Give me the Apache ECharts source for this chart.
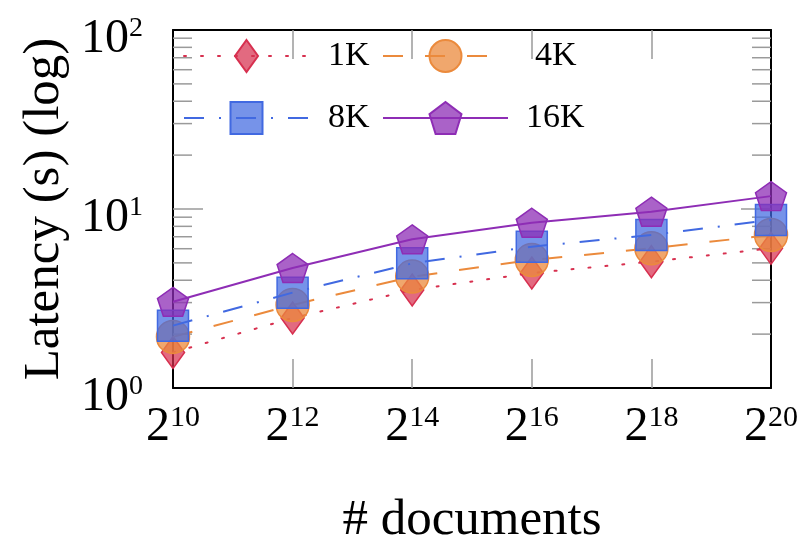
<!DOCTYPE html>
<html>
<head>
<meta charset="utf-8">
<script src="https://cdn.jsdelivr.net/npm/echarts@6/dist/echarts.min.js"></script>
<style>
html,body{margin:0;padding:0;background:#fff;}
#chart{width:806px;height:543px;}
</style>
</head>
<body>
<div id="chart"></div>
<script>
// ---- data ----
const exponents = ['10', '12', '14', '16', '18', '20'];   // x categories: 2^n documents
const seriesNames = ['1K', '4K', '8K', '16K'];
const lat1K  = [1.58, 2.46, 3.53, 4.39, 5.08, 6.03];
const lat4K  = [1.93, 2.91, 4.19, 5.19, 6.03, 7.16];
const lat8K  = [2.23, 3.41, 4.97, 6.16, 7.16, 8.68];
const lat16K = [3.03, 4.68, 6.77, 8.38, 9.66, 11.8];
const yMajorTicks = [1, 10, 100];
const yMinorTicks = [2, 3, 4, 5, 6, 7, 8, 9, 20, 30, 40, 50, 60, 70, 80, 90];

const FONT = '"Liberation Serif", "DejaVu Serif", serif';
const diamondPath = 'path://M0,-1L0.72,0L0,1L-0.72,0Z M-1,0L-1,0 M1,0L1,0';
const pentagonPath = 'path://M0,-1L0.951,-0.309L0.588,0.809L-0.588,0.809L-0.951,-0.309Z';

const styles = [
  {color: '#D7304F', fill: 'rgba(215,48,79,0.72)', symbol: diamondPath, size: 32, line: {type: [2, 15], width: 2, cap: 'round'}},
  {color: '#EB8A3C', fill: 'rgba(235,138,60,0.75)', symbol: 'circle', size: 33, line: {type: [20, 22], width: 2, cap: 'butt'}},
  {color: '#4169E1', fill: 'rgba(65,105,225,0.72)', symbol: 'rect', size: 31, line: {type: [20, 15, 2, 15], width: 2, cap: 'butt'}},
  {color: '#8E2DB5', fill: 'rgba(142,45,181,0.75)', symbol: pentagonPath, size: [31, 29], line: {type: 'solid', width: 2, cap: 'butt'}}
];
const dataSets = [lat1K, lat4K, lat8K, lat16K];

const chart = echarts.init(document.getElementById('chart'), null, {renderer: 'canvas'});

const series = seriesNames.map((name, i) => ({
  name: name,
  type: 'line',
  data: dataSets[i],
  xAxisIndex: 0,
  yAxisIndex: 0,
  symbol: styles[i].symbol,
  symbolSize: styles[i].size,
  showAllSymbol: true,
  animation: false,
  lineStyle: {color: styles[i].color, width: styles[i].line.width, type: styles[i].line.type, cap: styles[i].line.cap},
  itemStyle: {color: styles[i].fill, borderColor: styles[i].color, borderWidth: 1.5, opacity: 1},
  emphasis: {disabled: true},
  z: 3 + i
}));

const legendPos = [
  {left: 183, top: 36, pad: 14},
  {left: 382, top: 36, pad: 22},
  {left: 183, top: 98, pad: 14},
  {left: 382, top: 98, pad: 13}
];
const legends = seriesNames.map((name, i) => ({
  data: [name],
  left: legendPos[i].left,
  top: legendPos[i].top,
  padding: 0,
  itemWidth: 125,
  itemHeight: 40,
  selectedMode: false,
  textStyle: {fontFamily: FONT, fontSize: 34, color: '#000', padding: [0, 0, 0, legendPos[i].pad], lineHeight: 40}
}));

const axisLineStyle = {show: true, lineStyle: {color: '#000', width: 2}};
const tickGray = '#9a9a9a';

const option = {
  animation: false,
  backgroundColor: '#fff',
  grid: {left: 173, right: 35, top: 30, bottom: 155, containLabel: false, outerBoundsMode: 'none'},
  legend: legends,
  xAxis: [
    {
      type: 'category', data: exponents, boundaryGap: false, position: 'bottom',
      axisLine: axisLineStyle,
      axisTick: {show: true, inside: true, length: 29, interval: (idx) => idx > 0 && idx < exponents.length - 1, lineStyle: {color: tickGray, width: 1.5}},
      axisLabel: {
        margin: 15,
        formatter: (v) => '{b|2}{s|' + v + '}',
        rich: {
          b: {fontFamily: FONT, fontSize: 48, lineHeight: 48, color: '#000'},
          s: {fontFamily: FONT, fontSize: 30, lineHeight: 30, color: '#000', verticalAlign: 'top'}
        }
      },
      splitLine: {show: false},
      name: '# documents', nameLocation: 'middle', nameGap: 107,
      nameTextStyle: {fontFamily: FONT, fontSize: 51, color: '#000'}
    },
    {
      type: 'category', data: exponents, boundaryGap: false, position: 'top',
      axisLine: axisLineStyle,
      axisTick: {show: true, inside: true, length: 29, interval: (idx) => idx > 0 && idx < exponents.length - 1, lineStyle: {color: tickGray, width: 1.5}},
      axisLabel: {show: false},
      splitLine: {show: false}
    }
  ],
  yAxis: [
    {
      type: 'log', logBase: 10, min: 1, max: 100, position: 'left',
      axisLine: axisLineStyle,
      axisTick: {show: false},
      minorTick: {show: false},
      splitLine: {show: false},
      axisLabel: {
        margin: 30,
        padding: [18, 0, 0, 0],
        formatter: (v) => '{b|10}{s|' + Math.round(Math.log10(v)) + '}',
        rich: {
          b: {fontFamily: FONT, fontSize: 48, lineHeight: 48, color: '#000'},
          s: {fontFamily: FONT, fontSize: 28, lineHeight: 28, color: '#000', verticalAlign: 'top'}
        }
      },
      name: 'Latency (s) (log)', nameLocation: 'middle', nameGap: 100,
      nameTextStyle: {fontFamily: FONT, fontSize: 51, color: '#000'}
    },
    {
      type: 'log', logBase: 10, min: 1, max: 100, position: 'right',
      axisLine: axisLineStyle,
      axisTick: {show: false},
      splitLine: {show: false},
      axisLabel: {show: false}
    }
  ],
  series: series
};

chart.setOption(option);

// y ticks (major at 10, minor at 2..9 per decade) drawn through the axis scale on both sides
function buildTicks() {
  const xl = chart.convertToPixel({xAxisIndex: 0}, exponents[0]);
  const xr = chart.convertToPixel({xAxisIndex: 0}, exponents[exponents.length - 1]);
  const els = [];
  const addTick = (v, len) => {
    const y = chart.convertToPixel({yAxisIndex: 0}, v);
    els.push({type: 'line', shape: {x1: xl, y1: y, x2: xl + len, y2: y}, style: {stroke: tickGray, lineWidth: 1.5}, z: 1, silent: true});
    els.push({type: 'line', shape: {x1: xr - len, y1: y, x2: xr, y2: y}, style: {stroke: tickGray, lineWidth: 1.5}, z: 1, silent: true});
  };
  yMajorTicks.slice(1, -1).forEach(v => addTick(v, 30));
  yMinorTicks.forEach(v => addTick(v, 19));
  chart.setOption({graphic: {elements: els}});
}
buildTicks();
</script>
</body>
</html>
